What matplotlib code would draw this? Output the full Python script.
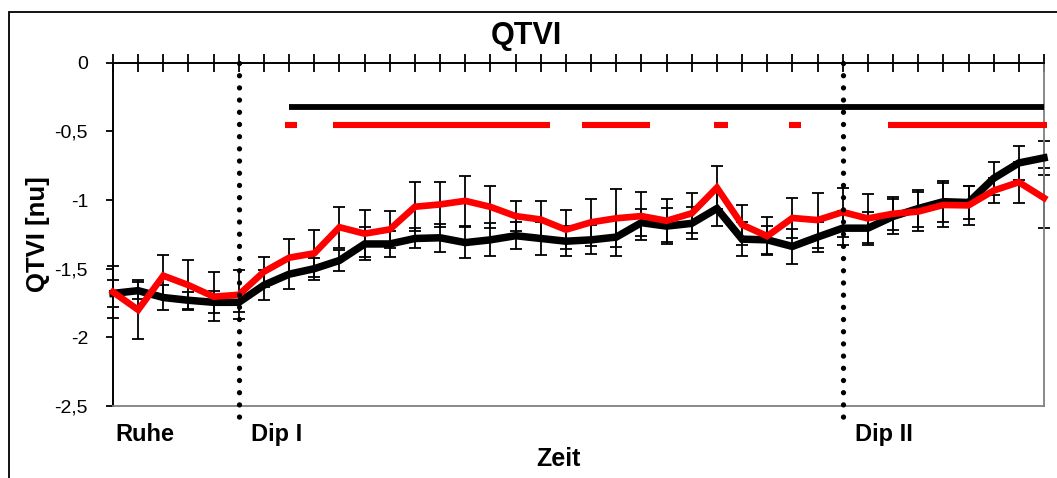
import numpy as np
import matplotlib
matplotlib.use("Agg")
import matplotlib.pyplot as plt
from matplotlib.patches import Rectangle

plt.rcParams['font.family'] = ['Liberation Sans', 'DejaVu Sans']

# mean QTVI per measurement point (38 points) and SEM
qtvi_a = [-1.68, -1.66, -1.71, -1.73, -1.745, -1.745, -1.62, -1.54, -1.50, -1.44,
          -1.32, -1.32, -1.28, -1.275, -1.31, -1.29, -1.26, -1.28, -1.30, -1.29,
          -1.27, -1.165, -1.19, -1.17, -1.062, -1.285, -1.29, -1.338, -1.27, -1.205,
          -1.205, -1.12, -1.062, -1.012, -1.018, -0.842, -0.73, -0.693]
qtvi_b = [-1.67, -1.80, -1.551, -1.62, -1.704, -1.69, -1.522, -1.42, -1.388, -1.198,
          -1.245, -1.214, -1.049, -1.032, -1.006, -1.05, -1.117, -1.142, -1.216, -1.162,
          -1.133, -1.117, -1.151, -1.097, -0.91, -1.18, -1.263, -1.131, -1.146, -1.088,
          -1.134, -1.10, -1.084, -1.036, -1.039, -0.931, -0.87, -0.985]
sem_a = [0.10, 0.06, 0.09, 0.06, 0.08, 0.07, 0.11, 0.11, 0.08, 0.078,
         0.12, 0.093, 0.073, 0.10, 0.115, 0.12, 0.10, 0.12, 0.11, 0.105,
         0.14, 0.10, 0.13, 0.117, 0.124, 0.124, 0.10, 0.13, 0.11, 0.126,
         0.12, 0.13, 0.135, 0.15, 0.12, 0.12, 0.126, 0.125]
sem_b = [0.19, 0.215, 0.15, 0.18, 0.18, 0.18, 0.11, 0.136, 0.17, 0.15,
         0.17, 0.135, 0.18, 0.165, 0.18, 0.155, 0.107, 0.136, 0.14, 0.17,
         0.21, 0.177, 0.158, 0.146, 0.157, 0.146, 0.14, 0.148, 0.20, 0.178,
         0.18, 0.12, 0.14, 0.16, 0.14, 0.088, 0.15, 0.218]

# significant stretches (start, end) on the time axis
sig_a = [(7.0, 37.0)]
sig_b = [(6.85, 7.3), (8.75, 17.35), (18.65, 21.35), (23.9, 24.45), (26.85, 27.35), (30.8, 37.1)]
sig_level_a = -0.325
sig_level_b = -0.455

phase_names = ["Ruhe", "Dip I", "Dip II"]
phase_x = [0.08, 5.47, 29.48]
dip_marks = [5, 29]

yticks = [0, -0.5, -1, -1.5, -2, -2.5]
ytick_labels = ["0", "-0,5", "-1", "-1,5", "-2", "-2,5"]

x = np.arange(len(qtvi_a))

fig = plt.figure(figsize=(10.57, 4.78), dpi=100)
ax = fig.add_axes([113/1057, 1-406/478, (1044-113)/1057, (406-62.7)/478])

# error bars below the lines
ax.errorbar(x, qtvi_a, yerr=sem_a, fmt='none', ecolor='black', elinewidth=1.3,
            capsize=4, capthick=1.3, zorder=2, clip_on=False)
ax.errorbar(x, qtvi_b, yerr=sem_b, fmt='none', ecolor='black', elinewidth=1.3,
            capsize=4, capthick=1.3, zorder=2, clip_on=False)
ax.plot(x, qtvi_a, color='black', lw=5.4, solid_joinstyle='miter', zorder=3, clip_on=False)
ax.plot(x, qtvi_b, color='#ff0000', lw=4.8, solid_joinstyle='miter', zorder=4, clip_on=False)

for s, e in sig_a:
    ax.plot([s, e], [sig_level_a, sig_level_a], color='black', lw=4.2,
            solid_capstyle='butt', zorder=3, clip_on=False)
for s, e in sig_b:
    ax.plot([s, e], [sig_level_b, sig_level_b], color='#ff0000', lw=4.4,
            solid_capstyle='butt', zorder=3, clip_on=False)

# dotted markers for the two dips
for d in dip_marks:
    ax.plot([d, d], [0, -2.6], color='black', lw=3.8, linestyle=(0, (0.01, 2.3)),
            dash_capstyle='round', zorder=6, clip_on=False)

for name, px in zip(phase_names, phase_x):
    ax.text(px, -2.71, name, fontsize=17, fontweight='bold', ha='left', va='center')

ax.set_xlim(0, len(qtvi_a) - 1)
ax.set_ylim(-2.5, 0)

ax.xaxis.set_ticks_position('top')
ax.set_xticks(x)
ax.tick_params(axis='x', direction='inout', length=13, width=1.3, labeltop=False, labelbottom=False)
ax.set_yticks(yticks)
ax.set_yticklabels(ytick_labels)
ax.tick_params(axis='y', direction='out', length=5, width=1.3, labelsize=14, pad=13)

ax.spines['top'].set_linewidth(1.4)
ax.spines['left'].set_linewidth(1.4)
ax.spines['bottom'].set_color('#808080')
ax.spines['right'].set_color('#808080')
ax.spines['bottom'].set_linewidth(1.3)
ax.spines['right'].set_linewidth(1.3)

ax.set_ylabel("QTVI [nu]", fontsize=18.5, fontweight='bold', labelpad=3)
fig.text(558/1057, 1-459/478, "Zeit", fontsize=18, fontweight='bold', ha='center', va='center')
fig.text(526/1057, 1-36/478, "QTVI", fontsize=22, fontweight='bold', ha='center', va='center')

# chart frame
fig.patches.append(Rectangle((8.5/1057, -0.05), 1.1, 1.05 - 11.7/478, transform=fig.transFigure,
                             fill=False, edgecolor='black', lw=1.3))

fig.savefig("out.png", dpi=100)
